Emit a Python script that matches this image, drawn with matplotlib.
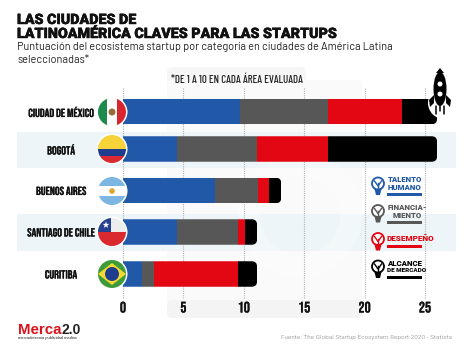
import matplotlib
matplotlib.use('Agg')
import matplotlib.pyplot as plt
import matplotlib.patheffects as pe
from matplotlib.patches import Circle, Rectangle, FancyBboxPatch, Polygon, Ellipse, Wedge
import numpy as np

cities = ['CIUDAD DE MÉXICO', 'BOGOTÁ', 'BUENOS AIRES', 'SANTIAGO DE CHILE', 'CURITIBA']
talento = [9.7, 4.5, 7.6, 4.5, 1.6]
financiamiento = [7.3, 6.6, 3.6, 5.0, 1.0]
desempeno = [6.1, 5.9, 0.9, 0.6, 6.9]
alcance = [2.9, 9.0, 1.0, 1.0, 1.6]
xticks = [0, 5, 10, 15, 20, 25]

legend_labels = [['TALENTO', 'HUMANO'], ['FINANCIA-', 'MIENTO'], ['DESEMPEÑO'], ['ALCANCE', 'DE MERCADO']]

BLUE = '#2159A8'
GRAY = '#575757'
RED = '#E30613'
BLACK = '#000000'
colors = [BLUE, GRAY, RED, BLACK]

# layout in pixels
W, H = 474, 355
x0 = 123.0
ppu = 12.08
bar_y = [111.5, 149, 190.5, 232, 274]
bar_h = 25.5
NARROW = ['Bebas Neue', 'Roboto']
TEXT = ['Barlow', 'Roboto']
heavy = [pe.withStroke(linewidth=0.35, foreground='#111111')]
semi = [pe.withStroke(linewidth=0.12, foreground='#111111')]

fig = plt.figure(figsize=(W / 100, H / 100), dpi=100, facecolor='white')

# background layer, pixel coordinates
bg = fig.add_axes([0, 0, 1, 1], zorder=1)
bg.set_xlim(0, W)
bg.set_ylim(H, 0)
bg.axis('off')

bg.add_patch(FancyBboxPatch((167, 67), 139, 40, boxstyle='round,pad=0,rounding_size=5', fc='#F6F6F6', ec='none'))
bg.add_patch(FancyBboxPatch((167, 80), 195, 238, boxstyle='round,pad=0,rounding_size=5', fc='#FAFAFA', ec='none'))
bg.add_patch(FancyBboxPatch((167, 300), 195, 18, boxstyle='round,pad=0,rounding_size=5', fc='#F4F4F4', ec='none'))
for y0, y1 in [(131.5, 167.5), (214, 250.5)]:
    bg.add_patch(Rectangle((17, y0), 439, y1 - y0, fc='#EDF5F9', ec='none'))
# faint gear watermark
bg.add_patch(Wedge((300, 215), 62, 0, 360, width=22, fc='white', ec='none', alpha=0.3))

t1 = bg.text(17, 20, 'LAS CIUDADES DE', fontsize=10.3, family='Roboto', weight='black', color='#111111', va='center')
t2 = bg.text(17, 34, 'LATINOAMÉRICA CLAVES PARA LAS STARTUPS', fontsize=10.3, family='Roboto', weight='black', color='#111111', va='center')
t1.set_path_effects(heavy)
t2.set_path_effects(heavy)
bg.text(17, 47.5, 'Puntuación del ecosistema startup por categoría en ciudades de América Latina', fontsize=7.85, family=TEXT, color='#222222', va='center')
bg.text(17, 60, 'seleccionadas*', fontsize=7.85, family=TEXT, color='#222222', va='center')
bg.text(236.5, 80, '*DE 1 A 10 EN CADA ÁREA EVALUADA', fontsize=7.9, family=['Barlow Condensed', 'Roboto'], weight='medium',
        color='#222222', ha='center', va='center')

for name, y in zip(cities, bar_y):
    bg.text(61, y, name, fontsize=8.5, family=NARROW, color='#111111', ha='center', va='center', path_effects=semi)

# chart layer: x in score units, y in pixels
ax = fig.add_axes([0, 0, 1, 1], zorder=2)
ax.patch.set_alpha(0)
ax.set_xlim(-x0 / ppu, (W - x0) / ppu)
ax.set_ylim(H, 0)
ax.axis('off')

ax.vlines(xticks, 88, 298, color='#B5B5B5', lw=0.8, linestyles=(0, (1, 1)), zorder=1)
for t in xticks:
    ax.text(t, 307, str(t), fontsize=11, family=NARROW, color='#111111', ha='center', va='center', path_effects=semi)

left = np.zeros(len(cities))
series = [talento, financiamiento, desempeno, alcance]
containers = []
for vals, c in zip(series, colors):
    containers.append(ax.barh(bar_y, vals, height=bar_h, left=left, color=c, zorder=2))
    left = left + np.array(vals)

# rounded right end on every bar
for i, y in enumerate(bar_y):
    clip = FancyBboxPatch((-2, y - bar_h / 2), left[i] + 2, bar_h,
                          boxstyle='round,pad=0,rounding_size=0.45', mutation_aspect=12.08,
                          transform=ax.transData, fc='none', ec='none')
    ax.add_patch(clip)
    for cont in containers:
        cont[i].set_clip_path(clip)

# top layer, pixel coordinates
fg = fig.add_axes([0, 0, 1, 1], zorder=3)
fg.patch.set_alpha(0)
fg.set_xlim(0, W)
fg.set_ylim(H, 0)
fg.axis('off')


def flag(cx, cy, parts):
    fg.add_patch(Circle((cx, cy), 15.5, fc='white', ec='none', zorder=3))
    clip = Circle((cx, cy), 14, transform=fg.transData, fc='none', ec='none')
    fg.add_patch(clip)
    for p in parts:
        p.set_zorder(4)
        fg.add_patch(p)
        p.set_clip_path(clip)


fx = 112
# Mexico
flag(fx, 112, [Rectangle((fx - 14, 98), 9.5, 28, fc='#1E8A4C'), Rectangle((fx - 4.5, 98), 9.5, 28, fc='white'),
               Rectangle((fx + 5, 98), 9.5, 28, fc='#D8262E'), Circle((fx, 112), 3.5, fc='#9A6B3A')])
# Colombia
flag(fx, 149, [Rectangle((fx - 14, 135), 28, 14, fc='#F7D33A'), Rectangle((fx - 14, 149), 28, 7, fc='#1F3D8F'),
               Rectangle((fx - 14, 156), 28, 7, fc='#DA2A30')])
# Argentina
flag(fx, 191, [Rectangle((fx - 14, 177), 28, 28, fc='white'), Rectangle((fx - 14, 177), 28, 9, fc='#7DB6E3'),
               Rectangle((fx - 14, 196), 28, 9, fc='#7DB6E3'), Circle((fx, 191), 2.8, fc='#E0A52E')])
# Chile
star = [(fx - 6 + r * np.sin(a), 225 - r * np.cos(a))
        for a, r in zip(np.arange(10) * np.pi / 5, [3.6, 1.4] * 5)]
flag(fx, 232, [Rectangle((fx - 14, 218), 28, 14, fc='#EDEDED'), Rectangle((fx - 14, 232), 28, 14, fc='#DA2A30'),
               Rectangle((fx - 14, 218), 13, 14, fc='#24408E'), Polygon(star, fc='white')])
# Brazil
flag(fx, 274, [Rectangle((fx - 14, 260), 28, 28, fc='#3E9B3A'),
               Polygon([(fx - 14, 274), (fx, 263), (fx + 14, 274), (fx, 285)], fc='#F5D92E'),
               Circle((fx, 274), 7, fc='#1F3D8F')])

# rocket
rx, ry = 440, 92
fg.add_patch(Ellipse((rx + 4, ry + 11), 32, 32, fc='white', ec='none'))
fg.add_patch(Ellipse((rx, ry - 3), 13, 34, fc='black', ec='none'))
fg.add_patch(Polygon([(rx - 4, ry - 19), (rx, ry - 24), (rx + 4, ry - 19)], fc='black', ec='none'))
fg.add_patch(Circle((rx, ry - 8), 2.5, fc='white', ec='none'))
fg.add_patch(Circle((rx, ry + 2), 2.5, fc='white', ec='none'))
fg.add_patch(Polygon([(rx - 6, ry + 3), (rx - 11, ry + 8), (rx - 10, ry + 15), (rx - 6, ry + 11)], fc='black', ec='none'))
fg.add_patch(Polygon([(rx + 6, ry + 3), (rx + 11, ry + 8), (rx + 10, ry + 15), (rx + 6, ry + 11)], fc='black', ec='none'))
for dx, y1 in [(-4, 114), (0, 111), (4, 114)]:
    fg.plot([rx + dx, rx + dx], [ry + 14, y1], color='black', lw=1.1, solid_capstyle='round')


def bulb(cx, cy, c):
    fg.add_patch(Circle((cx, cy - 2.5), 6, fc='white', ec=c, lw=1.3))
    fg.add_patch(Polygon([(cx - 3.5, cy + 3), (cx + 3.5, cy + 3), (cx + 2, cy + 9), (cx - 2, cy + 9)], fc=c, ec='none'))
    fg.plot([cx, cx], [cy - 3, cy + 4], color=c, lw=1)
    fg.plot([cx - 3.5, cx, cx + 3.5], [cy - 5, cy, cy - 5], color=c, lw=1)


# legend
legend_y = [186, 213.5, 241.5, 269]
for labels, c, y in zip(legend_labels, colors, legend_y):
    bulb(378, y, c)
    fin = labels[0].startswith('FIN')
    if len(labels) == 2:
        fg.text(427 if fin else 387.5, y - 6, labels[0], fontsize=5.7, family='Roboto', weight='black',
                color=c, ha='right' if fin else 'left', va='center')
        fg.text(422 if fin else 387.5, y + 2, labels[1],
                fontsize=4.5 if labels[1].startswith('DE ') else 5.7, family='Roboto', weight='black', color=c,
                ha='right' if fin else 'left', va='center')
        fg.add_patch(Rectangle((387, y + 7), 35.5, 3, fc=c, ec='none'))
    else:
        fg.text(387, y - 3, labels[0], fontsize=5.9, family='Roboto', weight='black', color=c, va='center')
        fg.add_patch(Rectangle((387, y + 3), 35.5, 3, fc=c, ec='none'))

# footer
fg.text(18, 329.5, 'Merca', fontsize=10.8, family='Liberation Sans', weight='bold', color='#D8131B', va='center')
fg.text(61.5, 329.5, '2.0', fontsize=10, family='Liberation Sans', weight='bold', color='#222222', va='center')
fg.text(18, 337.5, 'mercadotecnia publicidad medios', fontsize=2.9, family='Liberation Sans', color='#222222', va='center')
fg.text(452, 338, 'Fuente: The Global Startup Ecosystem Report 2020 - Statista', fontsize=4.55, family='Roboto',
        color='#ABABAB', ha='right', va='center')

fig.savefig('out.png', dpi=100)
plt.close(fig)
